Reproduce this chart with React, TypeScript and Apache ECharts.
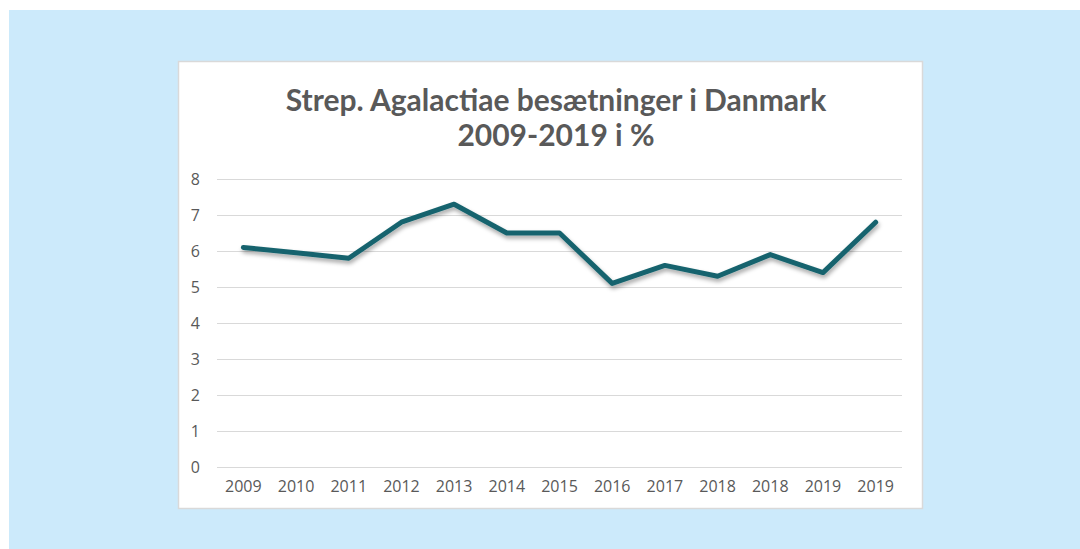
import React, { useEffect, useRef } from "react";
import * as echarts from "echarts";

const categories = ["2009", "2010", "2011", "2012", "2013", "2014", "2015", "2016", "2017", "2018", "2018", "2019", "2019"];
const values = [6.1, 5.95, 5.8, 6.8, 7.3, 6.5, 6.5, 5.1, 5.6, 5.3, 5.9, 5.4, 6.8];
const titleLines = ["Strep. Agalactiae besætninger i Danmark", "2009-2019 i %"];

export default function App() {
  const ref = useRef<HTMLDivElement>(null);
  useEffect(() => {
    if (!ref.current) return;
    const chart = echarts.init(ref.current, null, { renderer: "svg" });
    chart.setOption({
      animation: false,
      graphic: [
        { type: "rect", z: -10, shape: { x: 9, y: 10, width: 1071, height: 539 }, style: { fill: "#cceafb" }, silent: true },
        { type: "rect", z: -9, shape: { x: 178.5, y: 61.5, width: 744, height: 447 }, style: { fill: "#ffffff", stroke: "#d9d9d9", lineWidth: 1.5 }, silent: true },
      ],
      title: {
        text: titleLines.join("\n"),
        left: 551,
        textAlign: "center",
        top: 76,
        padding: 5,
        textStyle: { fontFamily: "Lato", fontWeight: "bold", fontSize: 30, color: "#595959", lineHeight: 35 },
      },
      grid: { left: 217, right: 178, top: 179, bottom: 82 },
      xAxis: {
        type: "category",
        data: categories,
        boundaryGap: true,
        axisLine: { show: false },
        axisTick: { show: false },
        axisLabel: { color: "#595959", fontFamily: "Open Sans", fontSize: 16, margin: 11, interval: 0 },
      },
      yAxis: {
        type: "value",
        min: 0,
        max: 8,
        interval: 1,
        axisLine: { show: false },
        axisTick: { show: false },
        axisLabel: { color: "#595959", fontFamily: "Open Sans", fontSize: 16, margin: 17 },
        splitLine: { lineStyle: { color: "#d9d9d9", width: 1 } },
      },
      series: [
        {
          type: "line",
          data: values,
          symbol: "none",
          lineStyle: {
            color: "#17646e",
            width: 5,
            cap: "round",
            join: "round",
            shadowColor: "rgba(0,0,0,0.35)",
            shadowBlur: 4,
            shadowOffsetY: 3,
            shadowOffsetX: 1,
          },
        },
      ],
    });
    return () => chart.dispose();
  }, []);
  return (
    <div
      ref={ref}
      style={{ position: "fixed", left: 0, top: 0, width: 1080, height: 549, background: "#ffffff" }}
    />
  );
}
